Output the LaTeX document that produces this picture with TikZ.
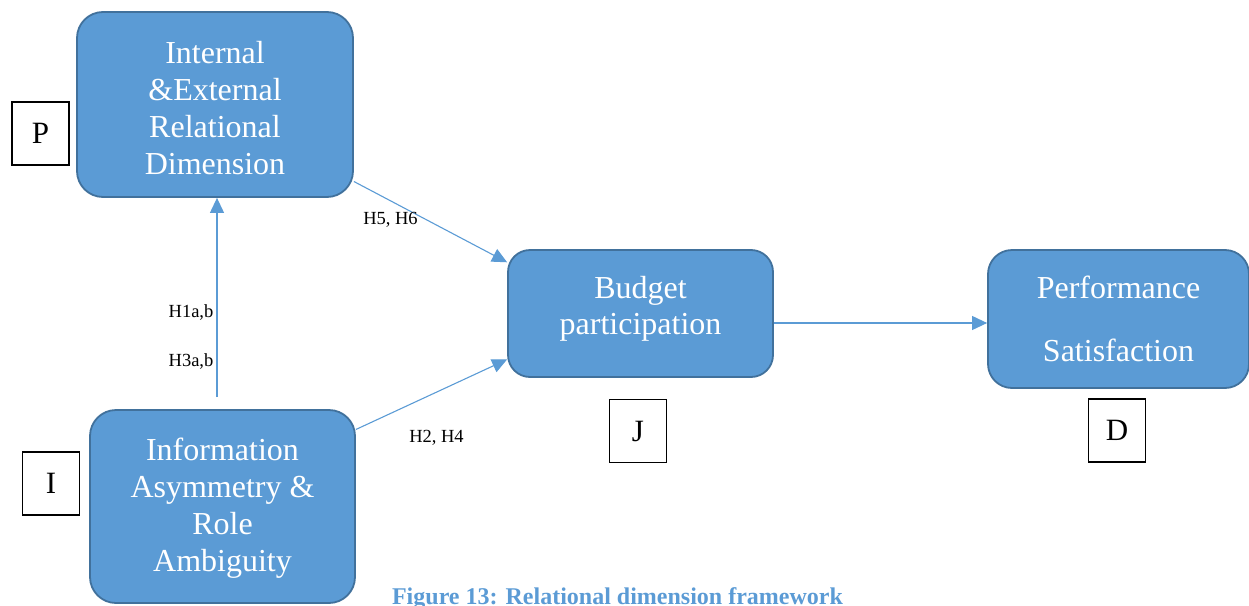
\documentclass[tikz,border=0pt]{standalone}
\usepackage{fontspec}
\setmainfont{Liberation Serif}
\usetikzlibrary{arrows.meta}
\definecolor{boxfill}{HTML}{5B9BD5}
\definecolor{boxline}{HTML}{41719C}
\definecolor{arrowblue}{HTML}{5B9BD5}
\tikzset{
  concept/.style={draw=boxline, line width=1.8pt, fill=boxfill, rounded corners=26pt,
    inner sep=0pt},
  boxtext/.style={text=white, align=center, inner sep=0pt,
    font=\fontsize{32}{37}\selectfont},
  letterbox/.style={draw=black, line width=1.4pt, fill=white, inner sep=0pt,
    minimum width=57pt, minimum height=63pt, font=\fontsize{31}{36}\selectfont},
  link/.style={draw=arrowblue, line width=1.1pt,
    -{Triangle[length=15pt,width=14pt]}},
  hyp/.style={font=\fontsize{18.5}{20}\selectfont, inner sep=0pt}
}
\begin{document}
\begin{tikzpicture}[x=1pt, y=-1pt]
  \useasboundingbox (0,0) rectangle (1249,605);

  % concept boxes
  \node[concept, minimum width=276pt, minimum height=185pt] (ie) at (215,104.5) {};
  \node[concept, minimum width=265pt, minimum height=193pt] (ia) at (222.5,506.5) {};
  \node[concept, minimum width=265pt, minimum height=127pt, rounded corners=22pt] (bp) at (640.5,313.5) {};
  \node[concept, minimum width=261pt, minimum height=138pt, rounded corners=24pt] (ps) at (1118.5,319) {};

  % box captions
  \node[boxtext] (ie-t) at ([yshift=-4pt]ie.center)
    {Internal\\\&External\\Relational\\Dimension};
  \node[boxtext] (ia-t) at ([yshift=-2pt]ia.center)
    {Information\\Asymmetry \&\\Role\\Ambiguity};
  \node[boxtext, font=\fontsize{32}{36}\selectfont] (bp-t) at ([yshift=4.5pt]bp.center)
    {Budget\\participation};
  \node[boxtext] (ps-t) at (ps.center)
    {Performance\\[26pt]Satisfaction};

  % letter tags
  \node[letterbox] (p) at (40.5,133.5) {P};
  \node[letterbox] (i) at (51,483.5) {I};
  \node[letterbox] (j) at (638,431) {J};
  \node[letterbox] (d) at (1117,430.5) {D};

  % connectors
  \draw[link] (ie.-29) -- (bp.159);
  \draw[link] (ia.30) -- (bp.199);
  \draw[link, shorten <=12pt] ([xshift=-5.5pt]ia.north) -- ([xshift=2pt]ie.south);
  \draw[link] ([yshift=-9.5pt]bp.east) -- ([yshift=-4pt]ps.west);

  % hypothesis labels
  \node[hyp] (h56) at (390.5,220) {H5, H6};
  \node[hyp] (h1) at (191,313) {H1a,b};
  \node[hyp] (h3) at (191,361) {H3a,b};
  \node[hyp] (h24) at (436.5,438) {H2, H4};

  % caption
  \node[anchor=base, inner sep=0pt, text=boxfill, font=\bfseries\fontsize{24}{27}\selectfont]
    (cap) at (617.5,604) {Figure 13: Relational dimension framework};
\end{tikzpicture}
\end{document}
